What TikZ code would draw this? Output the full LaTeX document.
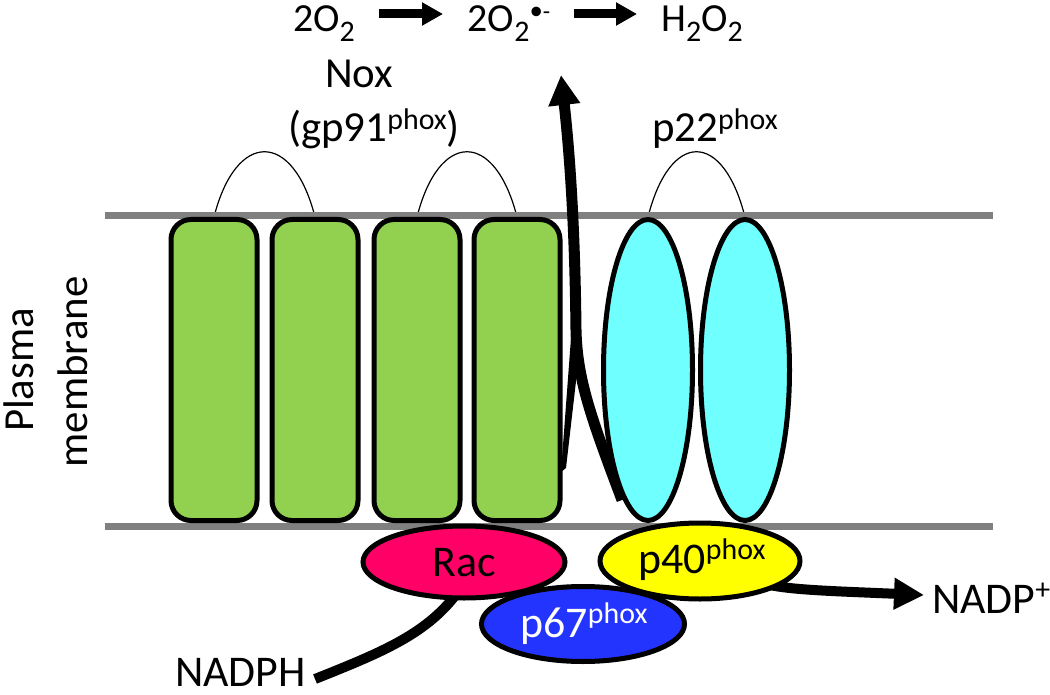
\documentclass[tikz,border=0pt]{standalone}
\usepackage{fontspec}
\setmainfont{Carlito}
\usetikzlibrary{arrows.meta,shapes.geometric,calc}
\definecolor{tmgreen}{RGB}{146,208,80}
\definecolor{tmcyan}{RGB}{112,255,255}
\definecolor{racred}{RGB}{255,0,102}
\definecolor{pblue}{RGB}{36,52,255}
\definecolor{pyellow}{RGB}{255,255,0}
\definecolor{memgray}{RGB}{128,128,128}
\newcommand\fs[1]{\fontsize{#1}{#1}\selectfont}
\newcommand\supph[1]{\raisebox{0.3em}{\fs{#1}phox}}
\newcommand\subtwo{\raisebox{-0.25em}{\fs{30}2}}
\pgfdeclarelayer{back}
\pgfdeclarelayer{mid}
\pgfsetlayers{back,mid,main}
\begin{document}
\begin{tikzpicture}[x=1bp,y=-1bp,
  lbl/.style={inner sep=0pt, anchor=base, font=\fs{43}},
  eqn/.style={inner sep=0pt, anchor=base, font=\fs{40}},
  big/.style={inner sep=0pt, anchor=base, font=\fs{44}},
  tmbox/.style={draw=black, line width=5bp, fill=tmgreen, rounded corners=20bp,
    minimum width=86bp, minimum height=301bp, inner sep=0pt},
  tmcyl/.style={ellipse, draw=black, line width=5bp, fill=tmcyan,
    minimum width=89bp, minimum height=301bp, inner sep=0pt},
  cyto/.style={ellipse, draw=black, line width=5bp, inner sep=0pt},
  memline/.style={draw=memgray, line width=7bp},
  loopline/.style={draw=black, line width=1.2bp},
  heavy/.style={draw=black, line width=10bp},
  smallhead/.style={-{Triangle[length=21bp,width=22bp]}},
  bighead/.style={-{Triangle[length=30bp,width=30bp]}}
]
\useasboundingbox (0,0) rectangle (1050,695);

% membrane
\coordinate (mtl) at (105,215);
\coordinate (mtr) at (993,215);
\coordinate (mbl) at (105,526);
\coordinate (mbr) at (993,526);

% transmembrane parts
\node[tmbox] (r1) at (214,370) {};
\node[tmbox] (r2) at (315,370) {};
\node[tmbox] (r3) at (417,370) {};
\node[tmbox] (r4) at (517,370) {};
\node[tmcyl] (c1) at (648,370) {};
\node[tmcyl] (c2) at (745,370) {};

% cytosolic parts
\node[cyto, fill=racred, minimum width=202bp, minimum height=72bp] (rac) at (464,562) {};
\node[cyto, fill=pblue, minimum width=203bp, minimum height=75bp] (p67) at (583,624) {};
\node[cyto, fill=pyellow, minimum width=200bp, minimum height=76bp] (p40) at (700,561) {};

% labels
\node[eqn] (o2) at (324,32) {2O\subtwo};
\node[eqn] (sup) at (509,32) {2O\subtwo\raisebox{12bp}{\fs{27}•}\raisebox{12bp}{\fs{24}-}};
\node[eqn] (h2o2) at (702,32) {H\subtwo O\subtwo};
\node[lbl] (nox) at (359,88) {Nox};
\node[lbl] (gp91) at (374,142) {(gp91\supph{30})};
\node[lbl] (p22) at (715,142) {p22\supph{30}};
\node[big] (raclbl) at (464,576) {Rac};
\node[big, text=white] (p67lbl) at (584,637) {p67\supph{30}};
\node[big] (p40lbl) at (702,573) {p40\supph{30}};
\node[big, anchor=base west] (nadpp) at (932,613) {NADP\raisebox{0.3em}{\fs{30}+}};
\node[big, anchor=base west] (nadph) at (175,686) {NADPH};
\node[lbl, rotate=90] (plasma) at (33,370) {Plasma};
\node[lbl, rotate=90] (membrane) at (87,372) {membrane};

% connector end points
\coordinate (a1s) at (379,14);
\coordinate (a1e) at (443,14);
\coordinate (a2s) at (574,14);
\coordinate (a2e) at (637,14);
\coordinate (suptip) at (561,75);
\coordinate (nadphtip) at (315,679);
\coordinate (nadptip) at (924,595);

\begin{pgfonlayer}{back}
  \draw[loopline] (r1.north) .. controls +(22,-87) and +(-22,-87) .. (r2.north);
  \draw[loopline] (r3.north) .. controls +(22,-87) and +(-22,-87) .. (r4.north);
  \draw[loopline] (c1.north) .. controls +(22,-87) and +(-22,-87) .. (c2.north);
  \draw[memline] (mtl) -- (mtr);
  \draw[memline] (mbl) -- (mbr);
\end{pgfonlayer}

\begin{pgfonlayer}{mid}
  % electron path through the membrane
  \draw[heavy, line width=11bp, bighead] ($(c1.center)+(-26,130)$) .. controls (592,420) and (577,380) ..
     (576,330) .. controls (575,240) and (571,165) .. (suptip);
  \fill[black] (571,338) -- (581,338) -- (566,468) -- (561,472) -- cycle;
  \draw[heavy] (nadphtip) .. controls (380,653) and (425,635) .. ($(rac.south)+(-8,-6)$);
  \draw[heavy, bighead] ($(p40.center)+(65,23)$) .. controls (790,590) and (830,591) .. (nadptip);
\end{pgfonlayer}

\draw[heavy, line width=9bp, smallhead] (a1s) -- (a1e);
\draw[heavy, line width=9bp, smallhead] (a2s) -- (a2e);
\end{tikzpicture}
\end{document}
